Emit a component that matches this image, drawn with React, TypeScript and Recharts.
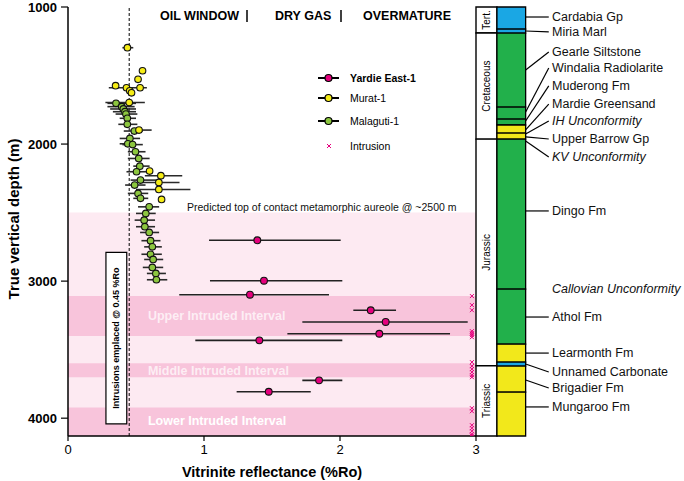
import React from "react";
import {
  ScatterChart,
  Scatter,
  XAxis,
  YAxis,
  ErrorBar,
  ReferenceArea,
  ReferenceLine,
  ReferenceDot,
} from "recharts";

const FONT = '"Liberation Sans", Arial, Helvetica, sans-serif';

// ---------- Data ----------
// Yardie East-1 (depth m, Ro mean, Ro min, Ro max)
const yardieDepth = [2702, 2997, 3099, 3213, 3298, 3384, 3432, 3724, 3807];
const yardieRo = [1.392, 1.441, 1.338, 2.226, 2.336, 2.289, 1.407, 1.846, 1.476];
const yardieLo = [1.037, 1.044, 0.818, 2.098, 1.723, 1.613, 0.936, 1.723, 1.24];
const yardieHi = [2.005, 2.017, 1.919, 2.412, 2.939, 2.809, 2.017, 2.017, 1.785];

// Murat-1
const muratDepth = [1297, 1465, 1528, 1574, 1589, 1589, 1611, 1626, 1697, 1898, 2197, 2231, 2280, 2331, 2404];
const muratRo = [0.437, 0.548, 0.515, 0.35, 0.43, 0.53, 0.454, 0.467, 0.45, 0.522, 0.6, 0.683, 0.668, 0.668, 0.688];
const muratLo = [0.4, 0.548, 0.515, 0.35, 0.3, 0.53, 0.454, 0.467, 0.275, 0.46, 0.6, 0.565, 0.52, 0.5, 0.688];
const muratHi = [0.48, 0.548, 0.515, 0.35, 0.58, 0.53, 0.454, 0.467, 0.565, 0.615, 0.6, 0.84, 0.82, 0.9, 0.688];

// Malaguti-1
const malDepth = [1703, 1727, 1744, 1764, 1781, 1812, 1856, 1905, 1959, 1998, 2004, 2056, 2105, 2161, 2202, 2263, 2299, 2360, 2396, 2458, 2506, 2555, 2603, 2645, 2705, 2750, 2804, 2842, 2900, 2944, 2990];
const malRo = [0.353, 0.395, 0.407, 0.419, 0.426, 0.436, 0.436, 0.488, 0.455, 0.44, 0.475, 0.496, 0.52, 0.528, 0.504, 0.533, 0.49, 0.515, 0.533, 0.597, 0.572, 0.56, 0.565, 0.597, 0.607, 0.62, 0.607, 0.626, 0.62, 0.646, 0.65];
const malLo = [0.29, 0.29, 0.31, 0.33, 0.35, 0.38, 0.37, 0.41, 0.38, 0.38, 0.4, 0.44, 0.44, 0.48, 0.43, 0.46, 0.42, 0.44, 0.48, 0.515, 0.5, 0.49, 0.5, 0.53, 0.54, 0.56, 0.54, 0.56, 0.55, 0.58, 0.58];
const malHi = [0.5, 0.49, 0.5, 0.5, 0.51, 0.5, 0.51, 0.55, 0.53, 0.5, 0.55, 0.57, 0.6, 0.6, 0.6, 0.65, 0.57, 0.59, 0.59, 0.67, 0.645, 0.64, 0.64, 0.67, 0.68, 0.69, 0.69, 0.7, 0.7, 0.72, 0.73];

// Intrusions (depth m), plotted at the right edge
const intrusionDepth = [3109, 3175, 3212, 3365, 3380, 3394, 3409, 3591, 3620, 3642, 3664, 3686, 3701, 3927, 3949, 4051, 4073, 4095, 4117, 4128];
const intrusionRo = 2.97;

// Axis
const xTicks = [0, 1, 2, 3];
const yTicks = [1000, 2000, 3000, 4000];
const yDomain = [1000, 4130];

// Shading intervals
const aureoleTop = 2500;
const intervalNames = ["Upper Intruded Interval", "Middle Intruded Interval", "Lower Intruded Interval"];
const intervalTop = [3109, 3600, 3922];
const intervalBase = [3401, 3701, 4130];
const intervalLabelDepth = [3254, 3656, 4021];

// Stratigraphic column
const formationTop = [1000, 1161, 1190, 1730, 1818, 1861, 1920, 1964, 3058, 3460, 3591, 3620, 3810];
const formationBase = [1161, 1190, 1730, 1818, 1861, 1920, 1964, 3058, 3460, 3591, 3620, 3810, 4130];
const formationColor = ["#1aa7e4", "#1aa7e4", "#22b04b", "#22b04b", "#22b04b", "#f2e81b", "#f2e81b", "#22b04b", "#22b04b", "#f2e81b", "#1aa7e4", "#f2e81b", "#f2e81b"];

const ageNames = ["Tert.", "Cretaceous", "Jurassic", "Triassic"];
const ageTop = [1000, 1190, 1964, 3617];
const ageBase = [1190, 1964, 3617, 4130];

const stratNames = ["Cardabia Gp", "Miria Marl", "Gearle Siltstone", "Windalia Radiolarite", "Muderong Fm", "Mardie Greensand", "IH Unconformity", "Upper Barrow Gp", "KV Unconformity", "Dingo Fm", "Callovian Unconformity", "Athol Fm", "Learmonth Fm", "Unnamed Carbonate", "Brigadier Fm", "Mungaroo Fm"];
const stratLabelDepth = [1073, 1182, 1328, 1445, 1576, 1708, 1832, 1963, 2094, 2488, 3057, 3262, 3525, 3663, 3780, 3918];
const stratLeaderFrom = [1073, 1175, 1460, 1766, 1832, 1897, 1927, 1948, 1978, 2488, null, 3262, 3525, 3605, 3721, 3918];
const stratItalic = [false, false, false, false, false, false, true, false, true, false, true, false, false, false, false, false];

// ---------- Helpers ----------
const build = (d: number[], ro: number[], lo: number[], hi: number[]) =>
  d.map((y, i) => ({ x: ro[i], y, err: [ro[i] - lo[i], hi[i] - ro[i]] }));

const yardieData = build(yardieDepth, yardieRo, yardieLo, yardieHi);
const muratData = build(muratDepth, muratRo, muratLo, muratHi);
const malData = build(malDepth, malRo, malLo, malHi);
const intrusionData = intrusionDepth.map((y) => ({ x: intrusionRo, y }));

const dotShape = (fill: string, r: number) => (p: any) =>
  p.cx == null ? null : (
    <circle cx={p.cx} cy={p.cy} r={r} fill={fill} stroke="#111" strokeWidth={1.1} />
  );

const xShape = (p: any) =>
  p.cx == null ? null : (
    <g stroke="#e6007e" strokeWidth={1}>
      <line x1={p.cx - 2} y1={p.cy - 2} x2={p.cx + 2} y2={p.cy + 2} />
      <line x1={p.cx - 2} y1={p.cy + 2} x2={p.cx + 2} y2={p.cy - 2} />
    </g>
  );

const rotLabel = (text: string, size: number, weight: string = "normal") => (props: any) => {
  const vb = props.viewBox || {};
  const cx = vb.x + vb.width / 2;
  const cy = vb.y + vb.height / 2;
  return (
    <text
      transform={`translate(${cx},${cy}) rotate(-90)`}
      textAnchor="middle"
      dominantBaseline="central"
      fontSize={size}
      fontWeight={weight}
      fill="#000"
      fontFamily={FONT}
    >
      {text}
    </text>
  );
};

const textDot = (key: string, x: number, y: number, text: string, style: any) => (
  <ReferenceDot
    key={key}
    x={x}
    y={y}
    r={0}
    fill="none"
    stroke="none"
    ifOverflow="visible"
    label={{
      content: (p: any) => (
        <text
          x={p.viewBox.x}
          y={p.viewBox.y}
          dominantBaseline="central"
          fontFamily={FONT}
          {...style}
        >
          {text}
        </text>
      ),
    }}
  />
);

// column x positions in data units
const AGE_L = 3.0;
const AGE_R = 3.154;
const LITH_R = 3.365;
const LEAD_R = 3.535;
const TEXT_X = 3.559;

export default function App() {
  return (
    <div style={{ position: "absolute", left: 0, top: 0, width: 684, height: 481, background: "#fff", fontFamily: FONT }}>
      <ScatterChart width={684} height={481} margin={{ top: 7, right: 208, bottom: 0, left: 8 }}>
        <XAxis
          type="number"
          dataKey="x"
          domain={[0, 3]}
          ticks={xTicks}
          interval={0}
          allowDataOverflow
          height={45}
          tickSize={5}
          tickMargin={4}
          axisLine={{ stroke: "#000", strokeWidth: 1.5 }}
          tickLine={{ stroke: "#000", strokeWidth: 1.2 }}
          tick={{ fontSize: 13, fill: "#000", fontFamily: FONT }}
        />
        <YAxis
          type="number"
          dataKey="y"
          domain={yDomain}
          ticks={yTicks}
          interval={0}
          reversed
          allowDataOverflow
          width={60}
          tickSize={7}
          tickMargin={4}
          axisLine={{ stroke: "#000", strokeWidth: 1.5 }}
          tickLine={{ stroke: "#000", strokeWidth: 1.2 }}
          tick={{ fontSize: 13, fontWeight: "bold", fill: "#000", fontFamily: FONT }}
        />

        {/* aureole & intruded intervals */}
        <ReferenceArea x1={0} x2={3} y1={aureoleTop} y2={yDomain[1]} fill="#fdeaf2" fillOpacity={1} stroke="none" ifOverflow="visible" />
        {intervalNames.map((n, i) => (
          <ReferenceArea key={n} x1={0} x2={3} y1={intervalTop[i]} y2={intervalBase[i]} fill="#f8c4db" fillOpacity={1} stroke="none" ifOverflow="visible" />
        ))}

        {/* stratigraphic column */}
        {ageNames.map((n, i) => (
          <ReferenceArea
            key={n}
            x1={AGE_L}
            x2={AGE_R}
            y1={ageTop[i]}
            y2={ageBase[i]}
            fill="#fff"
            fillOpacity={1}
            stroke="#000"
            strokeWidth={1.4}
            ifOverflow="visible"
            label={{ content: rotLabel(n, 10) }}
          />
        ))}
        {formationTop.map((t, i) => (
          <ReferenceArea
            key={"f" + i}
            x1={AGE_R}
            x2={LITH_R}
            y1={t}
            y2={formationBase[i]}
            fill={formationColor[i]}
            fillOpacity={1}
            stroke="#000"
            strokeWidth={1.3}
            ifOverflow="visible"
          />
        ))}
        {stratNames.map((n, i) =>
          stratLeaderFrom[i] == null ? null : (
            <ReferenceLine
              key={"l" + i}
              segment={[
                { x: LITH_R, y: stratLeaderFrom[i] as number },
                { x: LEAD_R, y: stratLabelDepth[i] },
              ]}
              stroke="#000"
              strokeWidth={1.2}
              ifOverflow="visible"
            />
          )
        )}
        {stratNames.map((n, i) =>
          textDot("s" + i, TEXT_X, stratLabelDepth[i], n, {
            fontSize: 12.5,
            fill: "#111",
            fontStyle: stratItalic[i] ? "italic" : "normal",
          })
        )}

        {/* 0.45 %Ro line and box */}
        <ReferenceLine x={0.45} stroke="#000" strokeWidth={1} strokeDasharray="3 2" ifOverflow="visible" />
        <ReferenceArea
          x1={0.279}
          x2={0.432}
          y1={2790}
          y2={4042}
          fill="#fff"
          fillOpacity={1}
          stroke="#000"
          strokeWidth={1.2}
          ifOverflow="visible"
          label={{ content: rotLabel("Intrusions emplaced @ 0.45 %Ro", 9, "bold") }}
        />

        {textDot("pred", 0.875, 2459, "Predicted top of contact metamorphic aureole @ ~2500 m", { fontSize: 10.5, fill: "#111" })}
        {intervalNames.map((n, i) =>
          textDot("iv" + i, 0.588, intervalLabelDepth[i], n, {
            fontSize: 12.5,
            fontWeight: "bold",
            fill: "#fff",
            fillOpacity: i === 2 ? 1 : 0.72,
          })
        )}

        <Scatter name="Malaguti-1" data={malData} isAnimationActive={false} shape={dotShape("#8cc63f", 3.3)}>
          <ErrorBar dataKey="err" direction="x" width={0} stroke="#2a2a2a" strokeWidth={1.6} />
        </Scatter>
        <Scatter name="Murat-1" data={muratData} isAnimationActive={false} shape={dotShape("#f5ec16", 3.3)}>
          <ErrorBar dataKey="err" direction="x" width={0} stroke="#2a2a2a" strokeWidth={1.6} />
        </Scatter>
        <Scatter name="Yardie East-1" data={yardieData} isAnimationActive={false} shape={dotShape("#e5007d", 3.4)}>
          <ErrorBar dataKey="err" direction="x" width={0} stroke="#222" strokeWidth={1.6} />
        </Scatter>
        <Scatter name="Intrusion" data={intrusionData} isAnimationActive={false} shape={xShape} />
      </ScatterChart>

      <svg width={684} height={481} style={{ position: "absolute", left: 0, top: 0, pointerEvents: "none" }} fontFamily={FONT}>
        {/* header */}
        <g fontSize={12.5} fontWeight="bold" fill="#000">
          <text x={160} y={20}>OIL WINDOW</text>
          <text x={275} y={20}>DRY GAS</text>
          <text x={363} y={20}>OVERMATURE</text>
        </g>
        <line x1={247} y1={10} x2={247} y2={22} stroke="#000" strokeWidth={1.5} />
        <line x1={341} y1={10} x2={341} y2={22} stroke="#000" strokeWidth={1.5} />

        {/* legend */}
        {[
          { y: 78, c: "#e5007d", t: "Yardie East-1", b: true },
          { y: 98, c: "#f5ec16", t: "Murat-1", b: false },
          { y: 121, c: "#8cc63f", t: "Malaguti-1", b: false },
        ].map((l) => (
          <g key={l.t}>
            <line x1={318} y1={l.y} x2={339} y2={l.y} stroke="#000" strokeWidth={2} />
            <circle cx={328.5} cy={l.y} r={3.5} fill={l.c} stroke="#000" strokeWidth={1.2} />
            <text x={350} y={l.y} dominantBaseline="central" fontSize={10.5} fontWeight={l.b ? "bold" : "normal"} fill="#000">
              {l.t}
            </text>
          </g>
        ))}
        <g stroke="#e6007e" strokeWidth={1}>
          <line x1={327} y1={144} x2={331} y2={148} />
          <line x1={327} y1={148} x2={331} y2={144} />
        </g>
        <text x={350} y={146} dominantBaseline="central" fontSize={10.5} fill="#000">Intrusion</text>

        {/* axis titles */}
        <text transform="translate(13,219) rotate(-90)" textAnchor="middle" dominantBaseline="central" fontSize={15} fontWeight="bold" fill="#000">
          True vertical depth (m)
        </text>
        <text x={272} y={472} textAnchor="middle" dominantBaseline="central" fontSize={14.5} fontWeight="bold" fill="#000">
          Vitrinite reflectance (%Ro)
        </text>
      </svg>
    </div>
  );
}
